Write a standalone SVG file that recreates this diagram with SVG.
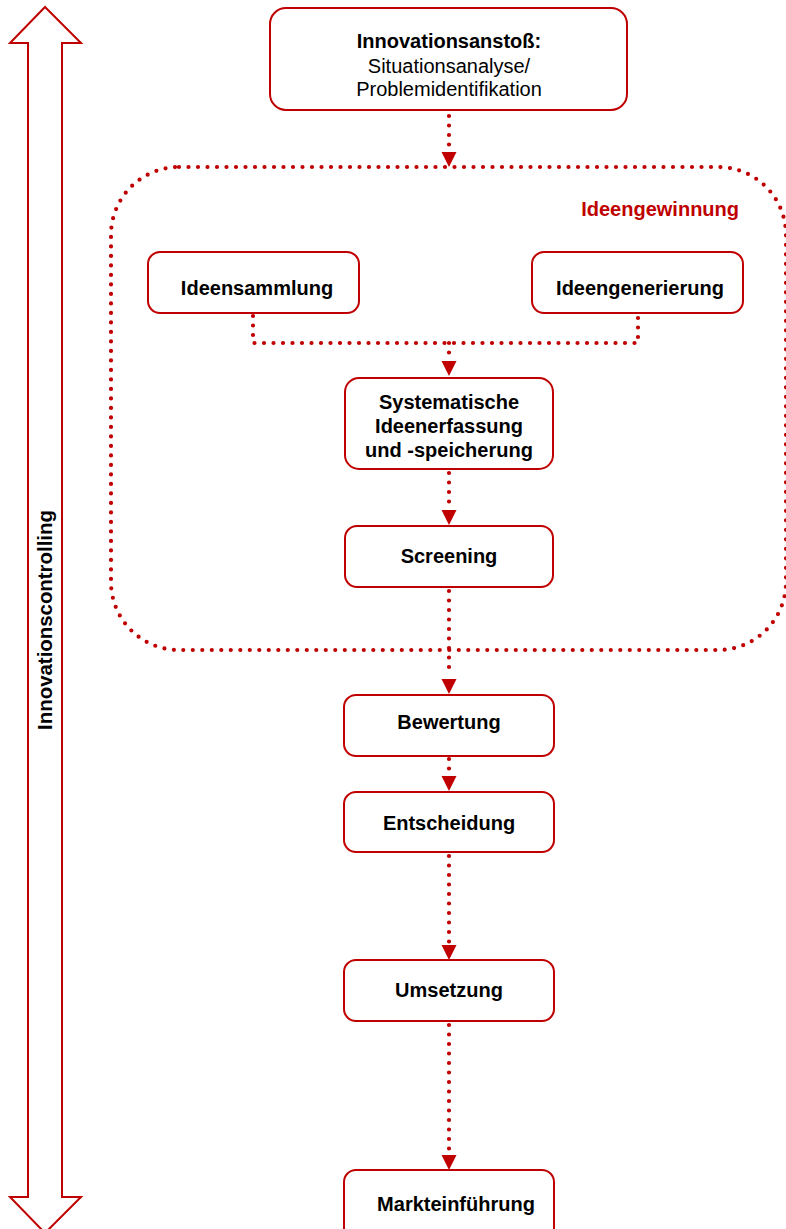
<svg xmlns="http://www.w3.org/2000/svg" width="786" height="1229" viewBox="0 0 786 1229">
<defs>
<style>
.box{fill:#fff;stroke:#C00000;stroke-width:2}
.t{font-family:"Liberation Sans",Arial,sans-serif;font-size:20px;fill:#000;text-anchor:middle}
.b{font-weight:bold}
.dot{fill:none;stroke:#C00000;stroke-width:4.2;stroke-linecap:round;stroke-dasharray:0 9.5}
.ah{fill:#C00000}
</style>
</defs>
<rect width="786" height="1229" fill="#fff"/>
<g id="controlling">
<polygon points="45,7 81,43 62,43 62,1197 81,1197 45,1233 10,1197 28,1197 28,43 10,43" fill="#fff" stroke="#C00000" stroke-width="2"/>
<text class="t b" transform="translate(52,620) rotate(-90)" style="font-size:20.4px">Innovationscontrolling</text>
</g>
<g id="ideengewinnung">
<rect x="111" y="167" width="675" height="483" rx="68" class="dot"/>
<text class="t b" x="739" y="216" style="fill:#C00000;text-anchor:end">Ideengewinnung</text>
</g>
<g id="connectors">
<path class="dot" d="M449,116 V150"/>
<path class="ah" d="M441.5,152 H456.5 L449,167 Z"/>
<path class="dot" d="M253,316 V343 H638 V316"/>
<path class="dot" d="M449,343 V358"/>
<path class="ah" d="M441.5,361 H456.5 L449,376 Z"/>
<path class="dot" d="M449,473 V508"/>
<path class="ah" d="M441.5,510 H456.5 L449,525 Z"/>
<path class="dot" d="M449,591 V675"/>
<path class="ah" d="M441.5,679 H456.5 L449,694 Z"/>
<path class="dot" d="M449,759 V774"/>
<path class="ah" d="M441.5,776 H456.5 L449,791 Z"/>
<path class="dot" d="M449,856 V942"/>
<path class="ah" d="M441.5,945 H456.5 L449,960 Z"/>
<path class="dot" d="M449,1025 V1151"/>
<path class="ah" d="M441.5,1155 H456.5 L449,1170 Z"/>
</g>
<g id="anstoss">
<rect class="box" x="270" y="8" width="357" height="102" rx="16"/>
<text class="t b" x="449" y="48">Innovationsanstoß:</text>
<text class="t" x="449" y="73">Situationsanalyse/</text>
<text class="t" x="449" y="96">Problemidentifikation</text>
</g>
<g id="ideensammlung">
<rect class="box" x="148" y="252" width="211" height="61" rx="12"/>
<text class="t b" x="257" y="295">Ideensammlung</text>
</g>
<g id="ideengenerierung">
<rect class="box" x="532" y="252" width="211" height="61" rx="12"/>
<text class="t b" x="640" y="295">Ideengenerierung</text>
</g>
<g id="erfassung">
<rect class="box" x="345" y="378" width="208" height="91" rx="14"/>
<text class="t b" x="449" y="409">Systematische</text>
<text class="t b" x="449" y="433">Ideenerfassung</text>
<text class="t b" x="449" y="457">und -speicherung</text>
</g>
<g id="screening">
<rect class="box" x="345" y="526" width="208" height="61" rx="12"/>
<text class="t b" x="449" y="563">Screening</text>
</g>
<g id="bewertung">
<rect class="box" x="344" y="695" width="210" height="61" rx="12"/>
<text class="t b" x="449" y="729">Bewertung</text>
</g>
<g id="entscheidung">
<rect class="box" x="344" y="792" width="210" height="60" rx="12"/>
<text class="t b" x="449" y="830">Entscheidung</text>
</g>
<g id="umsetzung">
<rect class="box" x="344" y="960" width="210" height="61" rx="12"/>
<text class="t b" x="449" y="997">Umsetzung</text>
</g>
<g id="markteinfuehrung">
<rect class="box" x="344" y="1170" width="210" height="70" rx="12"/>
<text class="t b" x="456" y="1211">Markteinführung</text>
</g>
</svg>
